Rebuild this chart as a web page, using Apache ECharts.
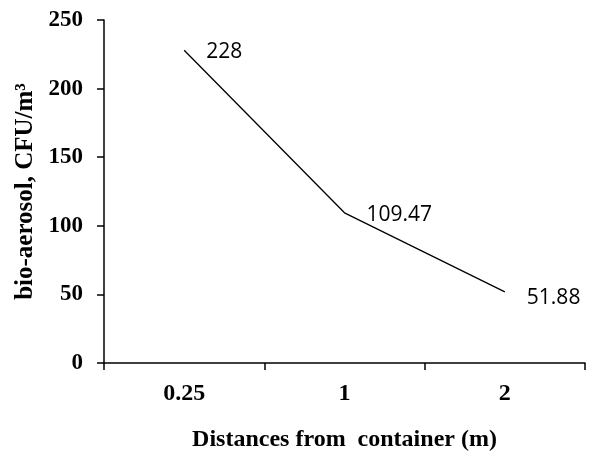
<!DOCTYPE html>
<html><head><meta charset="utf-8">
<script src="https://cdn.jsdelivr.net/npm/echarts@6/dist/echarts.min.js"></script>
<style>html,body{margin:0;padding:0;background:#fff}#c{width:590px;height:457px}</style>
</head><body><div id="c"></div>
<script>
const categories = ['0.25', '1', '2'];
const values = [228, 109.47, 51.88];
const labels = ['228', '109.47', '51.88'];
const yTitle = 'bio-aerosol, CFU/m³';
const xTitle = 'Distances from  container (m)';

const labelOffsets = [[0, 2], [0, 2], [0, 6]];
const seriesData = values.map((v, i) => ({value: v, label: {offset: labelOffsets[i]}}));

const chart = echarts.init(document.getElementById('c'));
chart.setOption({
  animation: false,
  backgroundColor: '#fff',
  grid: {left: 104, right: 5, top: 20, bottom: 93},
  xAxis: {
    type: 'category', data: categories, boundaryGap: true,
    name: xTitle, nameLocation: 'middle', nameGap: 65,
    nameTextStyle: {fontFamily: 'Liberation Serif', fontWeight: 'bold', fontSize: 24, color: '#000'},
    axisLine: {lineStyle: {color: '#000', width: 1.5}},
    axisTick: {show: true, length: 7, lineStyle: {color: '#000', width: 1.5}},
    axisLabel: {fontFamily: 'Liberation Serif', fontWeight: 'bold', fontSize: 24, color: '#000', margin: 19},
    splitLine: {show: false}
  },
  yAxis: {
    type: 'value', min: 0, max: 250, interval: 50,
    name: yTitle, nameLocation: 'middle', nameGap: 66, nameRotate: 90,
    nameTextStyle: {fontFamily: 'Liberation Serif', fontWeight: 'bold', fontSize: 25, color: '#000'},
    axisLine: {show: true, lineStyle: {color: '#000', width: 1.5}},
    axisTick: {show: true, length: 7, lineStyle: {color: '#000', width: 1.5}},
    axisLabel: {fontFamily: 'Liberation Serif', fontWeight: 'bold', fontSize: 23, color: '#000', margin: 21},
    splitLine: {show: false}
  },
  series: [{
    type: 'line', data: seriesData, showSymbol: true, symbol: 'circle', symbolSize: 0.01,
    itemStyle: {color: '#000'},
    lineStyle: {color: '#000', width: 1.3},
    label: {
      show: true, position: 'right', distance: 22,
      fontFamily: 'Open Sans', fontSize: 21, color: '#000',
      formatter: p => labels[p.dataIndex]
    }
  }]
});
</script></body></html>
